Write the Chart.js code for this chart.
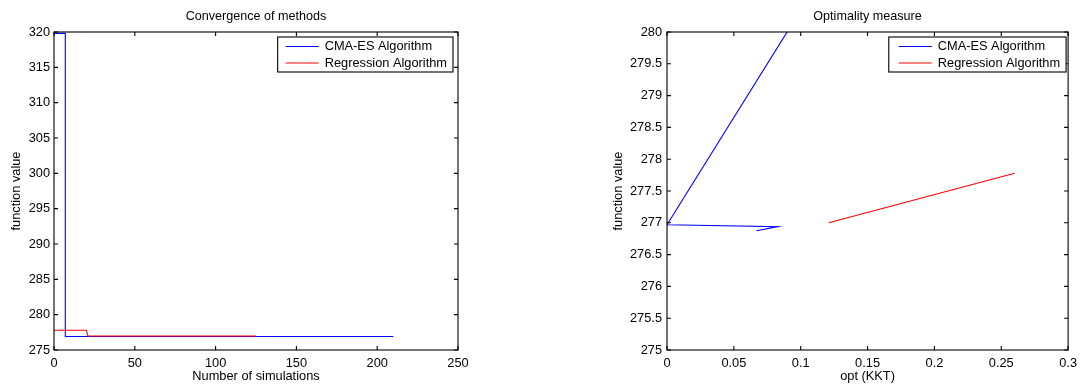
<!DOCTYPE html>
<html>
<head>
<meta charset="utf-8">
<title>Convergence and optimality</title>
<script src="https://cdn.jsdelivr.net/npm/chart.js@4/dist/chart.umd.min.js"></script>
<style>
  html, body { margin: 0; padding: 0; background: #fff; }
  #wrap { position: relative; width: 1083px; height: 386px; overflow: hidden; }
  canvas { position: absolute; top: 0; }
</style>
</head>
<body>
<div id="wrap">
  <canvas id="conv" width="541" height="386" style="left:0"></canvas>
  <canvas id="opt" width="542" height="386" style="left:541px"></canvas>
</div>
<script>
// Convergence history: number of simulations vs. best function value found
const cmaSimulations = [0, 7, 7, 210];
const cmaValues      = [319.8, 319.8, 276.9, 276.9];
const regSimulations = [0, 20, 21, 125];
const regValues      = [277.8, 277.8, 276.98, 276.98];

// Optimality measure: KKT residual vs. function value
const cmaKkt       = [1.27, 0, 0.083, 0.067];
const cmaKktValues = [319.8, 276.97, 276.94, 276.875];
const regKkt       = [0.121, 0.26];
const regKktValues = [277.0, 277.78];

const seriesNames = ['CMA-ES Algorithm', 'Regression Algorithm'];

// Tick labels
const convXTicks = ['0', '50', '100', '150', '200', '250'];
const convYTicks = ['275', '280', '285', '290', '295', '300', '305', '310', '315', '320'];
const optXTicks  = ['0', '0.05', '0.1', '0.15', '0.2', '0.25', '0.3'];
const optYTicks  = ['275', '275.5', '276', '276.5', '277', '277.5', '278', '278.5', '279', '279.5', '280'];

const FAMILY = '"Liberation Sans", Arial, Helvetica, sans-serif';
const tickFont  = { family: FAMILY, size: 12.8 };
const labelFont = { family: FAMILY, size: 12.8 };

function points(xs, ys) {
  return xs.map((x, i) => ({ x: x, y: ys[i] }));
}

// Boxed axes with inward tick marks on all four sides, a panel title and a boxed legend
const framePlugin = {
  id: 'frame',
  afterDraw(chart, args, opts) {
    const { ctx, chartArea: a, scales } = chart;
    const x = scales.x, y = scales.y;
    ctx.save();
    ctx.strokeStyle = '#000';
    ctx.lineWidth = 1.1;
    ctx.strokeRect(a.left, a.top, a.right - a.left, a.bottom - a.top);
    const len = 4;
    ctx.beginPath();
    x.ticks.forEach((t, i) => {
      const px = x.getPixelForTick(i);
      ctx.moveTo(px, a.bottom); ctx.lineTo(px, a.bottom - len);
      ctx.moveTo(px, a.top);    ctx.lineTo(px, a.top + len);
    });
    y.ticks.forEach((t, i) => {
      const py = y.getPixelForTick(i);
      ctx.moveTo(a.left, py);  ctx.lineTo(a.left + len, py);
      ctx.moveTo(a.right, py); ctx.lineTo(a.right - len, py);
    });
    ctx.stroke();

    // panel title
    ctx.fillStyle = '#000';
    ctx.font = '12.6px ' + FAMILY;
    ctx.textAlign = 'center';
    ctx.textBaseline = 'middle';
    ctx.fillText(opts.title, (a.left + a.right) / 2, 17);

    // legend box
    ctx.font = '12.8px ' + FAMILY;
    const ds = chart.data.datasets;
    let tw = 0;
    ds.forEach(d => { tw = Math.max(tw, ctx.measureText(d.label).width); });
    const w = opts.textOffset + tw + 6;
    const h = 35;
    const x0 = a.right - opts.legendRight - w;
    const y0 = a.top + 5;
    ctx.fillStyle = '#fff';
    ctx.fillRect(x0, y0, w, h);
    ctx.lineWidth = 1.1;
    ctx.strokeStyle = '#000';
    ctx.strokeRect(x0, y0, w, h);
    ds.forEach((d, i) => {
      const ry = y0 + 9.5 + i * 16.5;
      ctx.strokeStyle = d.borderColor;
      ctx.lineWidth = 1;
      ctx.beginPath();
      ctx.moveTo(x0 + opts.textOffset - 39, ry);
      ctx.lineTo(x0 + opts.textOffset - 6, ry);
      ctx.stroke();
      ctx.fillStyle = '#000';
      ctx.textAlign = 'left';
      ctx.fillText(d.label, x0 + opts.textOffset, ry);
    });
    ctx.restore();
  }
};

function axis(min, max, labels, fitSize, isX, titleText, titlePad, tickPad) {
  return {
    type: 'linear',
    min: min,
    max: max,
    afterBuildTicks(scale) {
      scale.ticks = labels.map(t => ({ value: Number(t) }));
    },
    afterFit(scale) {
      if (isX) scale.height = fitSize; else scale.width = fitSize;
    },
    grid: { display: false, drawTicks: false },
    border: { display: false },
    ticks: {
      autoSkip: false,
      maxRotation: 0,
      minRotation: 0,
      padding: tickPad,
      color: '#000',
      font: tickFont,
      callback: (v, i) => labels[i]
    },
    title: {
      display: true,
      text: titleText,
      color: '#000',
      font: labelFont,
      padding: titlePad
    }
  };
}

function makeChart(id, datasets, scales, padRight, frameOpts) {
  return new Chart(document.getElementById(id), {
    type: 'line',
    data: { datasets: datasets },
    options: {
      responsive: false,
      animation: false,
      devicePixelRatio: 1,
      events: [],
      layout: { padding: { left: 0, top: 32, right: padRight, bottom: 0 } },
      scales: scales,
      plugins: {
        legend: { display: false },
        tooltip: { enabled: false },
        title: { display: false },
        frame: frameOpts
      }
    },
    plugins: [framePlugin]
  });
}

function series(label, color, data, order) {
  return {
    label: label,
    data: data,
    borderColor: color,
    backgroundColor: color,
    borderWidth: 1.1,
    pointRadius: 0,
    tension: 0,
    fill: false,
    order: order
  };
}

makeChart('conv', [
  series(seriesNames[0], '#0000ff', points(cmaSimulations, cmaValues), 1),
  series(seriesNames[1], '#ff0000', points(regSimulations, regValues), 0)
], {
  x: axis(0, 250, convXTicks, 36, true, 'Number of simulations', { top: 0, bottom: 2 }, 6),
  y: axis(275, 320, convYTicks, 54, false, 'function value', { top: 9, bottom: 0 }, 4)
}, 83, { title: 'Convergence of methods', legendRight: 5, textOffset: 47 });

makeChart('opt', [
  series(seriesNames[0], '#0000ff', points(cmaKkt, cmaKktValues), 1),
  series(seriesNames[1], '#ff0000', points(regKkt, regKktValues), 0)
], {
  x: axis(0, 0.3, optXTicks, 36, true, 'opt (KKT)', { top: 0, bottom: 2 }, 6),
  y: axis(275, 280, optYTicks, 126, false, 'function value', { top: 69.5, bottom: 0 }, 5)
}, 12, { title: 'Optimality measure', legendRight: 2, textOffset: 49 });
</script>
</body>
</html>
